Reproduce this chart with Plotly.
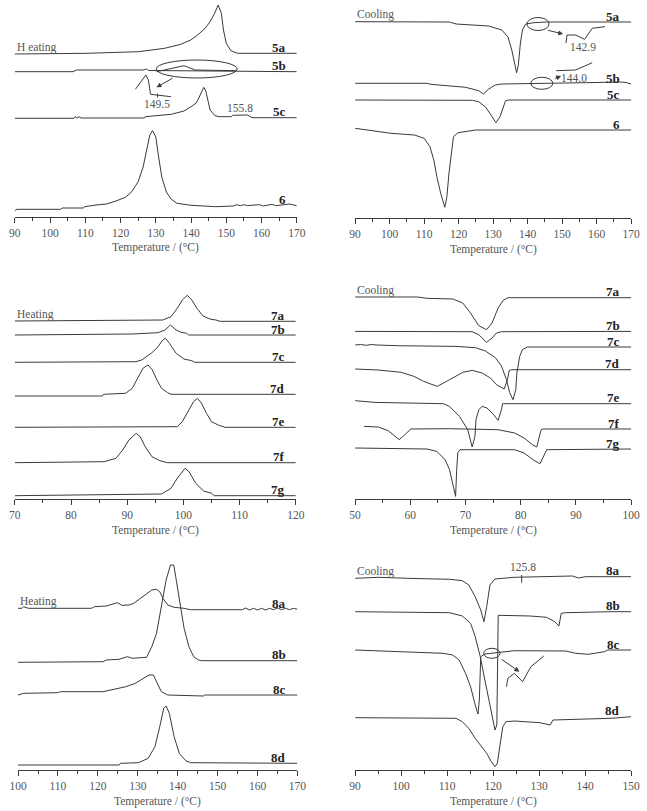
import plotly.graph_objects as go

# ---------------- data (temperature in °C, signal in arbitrary units, curves offset) -------------
# Panel A: heating 5a, 5b, 5c, 6
A_5a_T = [90, 110.4, 125.1, 132.5, 137.1, 139.9, 141.5, 143.5, 144.5, 145.4, 146.7, 147.7, 148.6, 149.2, 150, 151.3, 153.2, 170]
A_5a_h = [163, 163.7, 165.3, 168.7, 172.7, 177, 181, 187, 191, 195.3, 203.7, 212, 203.7, 187, 173.7, 166.3, 163.7, 163.7]
A_5b_T = [90, 106.5, 107.5, 126.5, 127.3, 128, 135, 160, 170]
A_5b_h = [145.3, 145.3, 147, 147, 148, 146.5, 146.3, 146, 145.3]
A_5c_T = [90, 106.8, 107.2, 107.6, 108.2, 108.8, 126.8, 127, 134.4, 138, 140, 141.5, 142.2, 143, 143.6, 144.2, 144.6, 145.4, 146.8, 148,
          151.4, 151.8, 156, 157.3, 170]
A_5c_h = [98.7, 98.7, 100.5, 98.7, 100.3, 99, 99, 100.3, 102.7, 106, 110.3, 114, 119, 126, 129.7, 126, 120, 107, 101.3, 100.3,
          100.3, 101.7, 102, 99.3, 99.3]
A_6_T = [90, 90.6, 103, 103.4, 109.5, 109.8, 113, 116, 118.7, 121.4, 123.2, 125, 126.4, 127.5, 128.3, 129.1, 130, 130.8, 131.7,
         133, 134.4, 136, 140, 147, 152, 153, 154, 155, 156, 157, 159.5, 160.5, 162, 163, 164, 166, 168, 170]
A_6_h = [6.3, 7.7, 7.7, 9, 9, 10.3, 12, 13, 16, 19.7, 25.3, 35.3, 50, 67, 82, 86.3, 80, 60, 40,
         25, 17.7, 13.7, 11.7, 10.3, 11, 12.3, 11.3, 12.3, 11.3, 11.7, 12.3, 11, 12, 12.7, 11.3, 12, 13, 11.3]
A_inset_T = [124.2, 127.2, 127.9, 128.5, 134.3]
A_inset_h = [127.7, 142, 137, 122.7, 120.3]
A_oval_T = [130.2, 138, 141.2, 152.7]
A_oval_h = [145.3, 151.3, 147, 146.3]

# Panel B: cooling 5a, 5b, 5c, 6
B_5a_T = [90, 117.3, 119.3, 128.7, 132.5, 134.3, 135.4, 136.2, 136.8, 137.3, 137.9, 138.5, 139.4, 141.8, 145.5, 170]
B_5a_h = [196.3, 196, 194, 192, 188, 181, 168, 155, 145.3, 153, 175, 188, 194, 195.3, 196, 196]
B_5b_T = [90, 110.8, 112, 122, 125.8, 127.2, 128.6, 130.6, 132.5, 153, 156.8, 166.8, 168.5, 170]
B_5b_h = [134.7, 134.7, 133.7, 130.7, 127.3, 124, 128.7, 133, 134, 134.7, 135.3, 136, 135.5, 134]
B_5c_T = [90, 124, 125.8, 127.8, 129.7, 130.8, 132, 132.9, 133.6, 134.5, 170]
B_5c_h = [118, 117.7, 116.3, 111, 101.3, 95.3, 101.3, 111.3, 117.3, 118, 118]
B_6_T = [90, 94.8, 100.4, 107.2, 110, 111.7, 112.8, 113.7, 114.8, 116, 116.6, 117.2, 117.9, 118.5, 119.8, 123.1, 125, 170]
B_6_h = [89.7, 87.3, 84.7, 83, 79.7, 71.3, 58, 41.3, 24.7, 10.7, 21.3, 44.7, 68, 81.3, 85.3, 87.3, 88, 88]
B_inset1_T = [151.1, 151.4, 153.9, 156.5, 158.7, 162.4]
B_inset1_h = [175, 183, 183, 178.7, 189.7, 191.3]
B_inset2_T = [148.3, 153.9, 158.7]
B_inset2_h = [147.3, 148, 155.3]

# Panel C: heating 7a-7g
C_7a_T = [70, 96.3, 97.8, 98.9, 99.8, 100.7, 101.5, 102.4, 103.5, 104.7, 105.8, 106.5, 120]
C_7a_h = [178, 179, 182.3, 190.7, 199, 203.7, 199, 190.7, 183, 180, 179, 177.7, 177.7]
C_7b_T = [70, 90.9, 95.5, 96.7, 97.7, 98.7, 99.6, 100.6, 100.9, 120]
C_7b_h = [164, 165, 166.3, 169, 174, 169, 166.7, 165.7, 164, 164]
C_7c_T = [70, 91.5, 92.6, 94.4, 95.5, 96.3, 96.8, 97.5, 98.7, 100.1, 101.5, 102, 120]
C_7c_h = [136.7, 137.3, 139, 146.3, 152.3, 159, 160.7, 155.7, 145.7, 140, 138.3, 136.7, 136.7]
C_7d_T = [70, 85.6, 85.8, 89.7, 90.9, 92, 92.8, 93.7, 94.4, 95.3, 96.1, 97.2, 97.8, 120]
C_7d_h = [103, 103, 104.7, 105.7, 110.7, 122.3, 130.7, 134, 129.7, 119, 110.7, 106.3, 104.7, 104.7]
C_7e_T = [70, 98.9, 99.8, 101, 101.8, 102.5, 103.2, 104.1, 105, 106.2, 107.4, 120]
C_7e_h = [71.7, 72.3, 77.3, 89, 97.3, 100.7, 96, 85.7, 77.3, 74, 71.7, 71.7]
C_7f_T = [70, 85.9, 88, 89.2, 90.3, 91.6, 92.3, 93.2, 94.4, 95.8, 97.2, 120]
C_7f_h = [36.3, 37.3, 40.7, 49, 59, 65.7, 62.3, 52.3, 42.3, 38.3, 36.3, 36.3]
C_7g_T = [70, 96.1, 97.8, 98.9, 100.3, 101, 102.2, 103.6, 105, 105.5, 120]
C_7g_h = [3.3, 5, 10.7, 20.7, 30.7, 27.3, 15.7, 8, 5.7, 3.3, 3.3]

# Panel D: cooling 7a-7g
D_7a_T = [50, 61.3, 63, 67.7, 69.5, 70.9, 72.4, 73.8, 74.8, 75.9, 76.8, 77.7, 100]
D_7a_h = [202, 202, 200.7, 200, 196, 186, 173.3, 169.3, 176, 191, 198.6, 201.3, 201.3]
D_7b_T = [50, 71.2, 72.4, 73.8, 74.8, 75.6, 76.5, 100]
D_7b_h = [167.6, 167.3, 164.3, 156.6, 161, 166, 167.3, 167.6]
D_7c_T = [50, 51, 52, 53, 54, 57.7, 68.3, 71.8, 73.6, 75.4, 76.5, 77.4, 78, 78.6, 79.1, 79.3, 79.8, 80.3, 81.2, 100]
D_7c_h = [154, 154.5, 153.7, 154.5, 154, 153.3, 152.6, 151.3, 148, 141.3, 133, 119.6, 106.3, 99.3, 109.3, 126, 142.6, 149.3, 152, 152]
D_7d_T = [50, 54.2, 58.3, 60.7, 62.4, 64.9, 67.1, 69.5, 71.2, 73, 74.5, 75.6, 77, 77.6, 77.9, 78.3, 100]
D_7d_h = [130, 129, 126.7, 122.6, 117.6, 112.6, 119.3, 126.7, 128.6, 126, 121, 114.3, 110, 119.3, 128.6, 129.3, 129.3]
D_7e_T = [50, 53.6, 66, 67.1, 68.9, 70.4, 71.2, 71.7, 71.9, 72.4, 73, 73.9, 75.1, 75.9, 76.5, 76.7, 100]
D_7e_h = [98.3, 96.6, 95.3, 92.6, 82.6, 69.3, 52, 62.6, 79.3, 89.3, 92.6, 91, 84.3, 78.6, 89.3, 95.3, 95.3]
D_7f_T = [51.6, 54.2, 56, 57.2, 58, 59, 60.1, 67.1, 75.9, 78.9, 80.6, 82.1, 82.9, 83.3, 83.7, 84, 100]
D_7f_h = [72.6, 72, 68.3, 63.3, 59.3, 64.3, 70, 70.3, 69.3, 66, 61, 54.3, 52, 61, 69.3, 70, 70]
D_7g_T = [50, 63, 64.8, 66.3, 67.1, 67.7, 68.2, 68.4, 68.6, 69, 78.9, 80.6, 82.4, 83.5, 84.2, 84.7, 100]
D_7g_h = [51, 50, 47.6, 39.3, 29.3, 16, 2.6, 29.3, 46.3, 49.3, 49.3, 46, 38.6, 35.3, 42.6, 49.3, 50]

# Panel E: heating 8a-8d
E_8a_T = [100, 101, 101.4, 102.6, 118.4, 119.2, 122.1, 124.1, 124.9, 126, 127.8, 129, 130.2, 131.8, 133.5, 134.7, 135.5, 136.3,
          137.5, 139.1, 141.6, 143.2, 156.2, 157, 158, 159, 160, 161, 162, 163, 164, 165, 166, 167, 168, 169, 170]
E_8a_h = [161.7, 161.7, 163.3, 161.7, 161.7, 163.3, 164, 166, 167.3, 164.7, 165, 166.7, 170, 175, 180, 180.7, 178.3, 171.7,
          165, 162.7, 161.7, 160.3, 160.3, 162, 160, 161.7, 160, 161.7, 160, 161.7, 160.3, 162, 160.3, 161.7, 160.3, 161.7, 160.7]
E_8b_T = [100, 121.3, 122.1, 125.3, 127.4, 128.2, 128.6, 132.2, 133.5, 134.7, 135.9, 137.1, 138.2, 139, 139.5, 140.4, 141.6,
          142.8, 144, 145.2, 146, 170]
E_8b_h = [107.7, 108.3, 110, 110.7, 113.3, 112.7, 111.7, 112.7, 123.3, 136.7, 163.3, 190, 205, 205, 193.3, 170, 141.7,
          123.3, 113.3, 110, 109.3, 109.3]
E_8c_T = [100, 101.4, 109.9, 110.7, 121.3, 124.5, 127, 129.4, 131.4, 132.8, 133.9, 134.7, 135.9, 137.5, 146.4, 146.8, 170]
E_8c_h = [75, 76.7, 77.3, 78.3, 78.3, 81, 83.3, 86.7, 91.7, 95, 95, 88.3, 78.3, 75, 74, 75, 75]
E_8d_T = [100, 125.3, 125.7, 130.2, 132.6, 134.3, 135.5, 136.5, 137.1, 137.9, 139.1, 140.4, 142, 143.2, 170]
E_8d_h = [5, 5, 6.7, 7.3, 11.7, 23.3, 43.3, 61.7, 64, 56.7, 33.3, 16.7, 9.3, 7.3, 6.7]

# Panel F: cooling 8a-8d
F_8a_T = [90, 95.1, 101.4, 110.5, 113.3, 114.7, 116.1, 117.3, 118, 118.6, 119.3, 120.4, 124.6, 137.2, 138.6, 140, 150]
F_8a_h = [191.7, 192.7, 191.7, 190.7, 189.3, 185, 173.3, 160, 148.3, 163.3, 185, 191, 192.7, 194, 192, 193.3, 193.3]
F_8b_T = [90, 110.5, 113.3, 115.1, 116.1, 117.2, 118.2, 119.3, 120.4, 120.8, 121.1, 128.1, 131.6, 133.4, 134.3, 134.8, 135.8, 145.6, 150]
F_8b_h = [158.3, 157.3, 154, 146.7, 133.3, 113.3, 90, 66.7, 40, 45, 154.7, 154, 152.7, 148.3, 144, 156.7, 157.3, 158.3, 158.3]
F_8c_T = [90, 100, 109.1, 111.2, 112.6, 114, 115.1, 116, 116.7, 117, 117.3, 118.2, 121.1, 124.6, 135.8, 137.9, 140.7, 144.2, 144.9, 150]
F_8c_h = [120, 118.3, 116.7, 115, 110, 96.7, 83.3, 66.7, 56, 70, 113.3, 116, 117.3, 119.3, 119, 116.7, 115.7, 118.3, 120, 120]
F_8d_T = [90, 111.9, 113.3, 114.7, 116.1, 117.5, 118.6, 119.6, 120.4, 120.9, 121.6, 122.1, 122.8, 124.6, 130.2, 132.4, 133, 145.6, 150]
F_8d_h = [52.3, 51.7, 48.3, 41.7, 31.7, 23.3, 16.7, 8.3, 3.3, 6.7, 30, 43.3, 48.3, 49, 47.3, 45, 50, 51.7, 53.3]
F_inset_T = [122.9, 123.2, 124.6, 126.4, 128.2, 131]
F_inset_h = [83.3, 91.7, 96.7, 88.3, 103.3, 114]

# ---------------- layout helpers ----------------
W, H = 647, 811
FONT = "Times New Roman, Liberation Serif, serif"
LINE = "#3a3a3a"
TXT = "#555555"

panels = [
    dict(xr=[90, 170], xpx=[6, 296], ax=217, top=0, mode="H eating",
         curves=[("5a", A_5a_T, A_5a_h), ("5b", A_5b_T, A_5b_h), ("5c", A_5c_T, A_5c_h), ("6", A_6_T, A_6_h)]),
    dict(xr=[90, 170], xpx=[356, 640], ax=218, top=0, mode="Cooling",
         curves=[("5a", B_5a_T, B_5a_h), ("5b", B_5b_T, B_5b_h), ("5c", B_5c_T, B_5c_h), ("6", B_6_T, B_6_h)]),
    dict(xr=[70, 120], xpx=[6, 295], ax=499, top=279, mode="Heating",
         curves=[("7a", C_7a_T, C_7a_h), ("7b", C_7b_T, C_7b_h), ("7c", C_7c_T, C_7c_h), ("7d", C_7d_T, C_7d_h),
                 ("7e", C_7e_T, C_7e_h), ("7f", C_7f_T, C_7f_h), ("7g", C_7g_T, C_7g_h)]),
    dict(xr=[50, 100], xpx=[356, 640], ax=499, top=279, mode="Cooling",
         curves=[("7a", D_7a_T, D_7a_h), ("7b", D_7b_T, D_7b_h), ("7c", D_7c_T, D_7c_h), ("7d", D_7d_T, D_7d_h),
                 ("7e", D_7e_T, D_7e_h), ("7f", D_7f_T, D_7f_h), ("7g", D_7g_T, D_7g_h)]),
    dict(xr=[100, 170], xpx=[9.3, 296.7], ax=770, top=550, mode="Heating",
         curves=[("8a", E_8a_T, E_8a_h), ("8b", E_8b_T, E_8b_h), ("8c", E_8c_T, E_8c_h), ("8d", E_8d_T, E_8d_h)]),
    dict(xr=[90, 150], xpx=[356, 640], ax=770, top=550, mode="Cooling",
         curves=[("8a", F_8a_T, F_8a_h), ("8b", F_8b_T, F_8b_h), ("8c", F_8c_T, F_8c_h), ("8d", F_8d_T, F_8d_h)]),
]

fig = go.Figure()
annotations = []
shapes = []

for i, p in enumerate(panels, start=1):
    xa = "x" if i == 1 else f"x{i}"
    ya = "y" if i == 1 else f"y{i}"
    xk = "xaxis" if i == 1 else f"xaxis{i}"
    yk = "yaxis" if i == 1 else f"yaxis{i}"
    for name, T, h in p["curves"]:
        fig.add_trace(go.Scatter(x=T, y=h, mode="lines", xaxis=xa, yaxis=ya, showlegend=False,
                                 line=dict(color=LINE, width=1), hoverinfo="skip"))
        annotations.append(dict(x=p["xr"][1], y=h[-1] + 6, xref=xa, yref=ya, text=f"<b>{name}</b>",
                                showarrow=False, xanchor="right", yanchor="middle", xshift=-9,
                                font=dict(family=FONT, size=13, color="#222222")))
    first = p["curves"][0]
    annotations.append(dict(x=p["xr"][0], y=first[2][0] + 7, xref=xa, yref=ya, text=p["mode"],
                            showarrow=False, xanchor="left", yanchor="middle", xshift=0,
                            font=dict(family=FONT, size=11.5, color=TXT)))
    annotations.append(dict(x=0.5, y=0, xref=f"{xa} domain", yref=f"{ya} domain", text="Temperature / (°C)",
                            showarrow=False, xanchor="center", yanchor="middle", yshift=-31,
                            font=dict(family=FONT, size=11.5, color=TXT)))
    height = p["ax"] - p["top"]
    fig.layout[xk] = dict(domain=[p["xpx"][0] / W, p["xpx"][1] / W], range=p["xr"], anchor=ya,
                          showline=True, linecolor=LINE, linewidth=1, ticks="outside", ticklen=5,
                          tickcolor=LINE, dtick=10, showgrid=False, zeroline=False,
                          tickfont=dict(family=FONT, size=11.5, color=TXT),
                          minor=dict(dtick=5, ticks="outside", ticklen=3, tickcolor=LINE, showgrid=False))
    fig.layout[yk] = dict(domain=[(H - p["ax"]) / H, (H - p["top"]) / H], range=[0, height], anchor=xa,
                          visible=False, showgrid=False, zeroline=False)

# ---------- magnified-detail call-outs ----------
def add_line(T, h, xa, ya):
    fig.add_trace(go.Scatter(x=T, y=h, mode="lines", xaxis=xa, yaxis=ya, showlegend=False,
                             line=dict(color=LINE, width=1), hoverinfo="skip"))

def add_oval(x0, x1, y0, y1, xa, ya):
    shapes.append(dict(type="circle", xref=xa, yref=ya, x0=x0, x1=x1, y0=y0, y1=y1,
                       line=dict(color=LINE, width=1)))

def add_arrow(x, y, axx, ayy, xa, ya):
    annotations.append(dict(x=x, y=y, ax=axx, ay=ayy, xref=xa, yref=ya, axref=xa, ayref=ya, text="",
                            showarrow=True, arrowhead=2, arrowsize=1, arrowwidth=1, arrowcolor=LINE))

def add_text(x, y, t, xa, ya):
    annotations.append(dict(x=x, y=y, xref=xa, yref=ya, text=t, showarrow=False,
                            font=dict(family=FONT, size=11.5, color=TXT)))

# panel A
add_oval(130.1, 153.1, 139, 157, "x", "y")
add_line(A_oval_T, A_oval_h, "x", "y")
add_arrow(130.2, 129.7, 135.2, 139.7, "x", "y")
add_line(A_inset_T, A_inset_h, "x", "y")
shapes.append(dict(type="line", xref="x", yref="y", x0=130.5, x1=130.5, y0=119.5, y1=123.5, line=dict(color=LINE, width=1)))
add_text(130.2, 113, "149.5", "x", "y")
add_text(153.8, 109, "155.8", "x", "y")
# panel B
add_oval(139.8, 146.2, 187.5, 200.5, "x2", "y2")
add_arrow(150.3, 184, 145.5, 188, "x2", "y2")
add_line(B_inset1_T, B_inset1_h, "x2", "y2")
add_text(155.9, 171, "142.9", "x2", "y2")
add_oval(140.9, 147.3, 128.7, 140.7, "x2", "y2")
add_arrow(149.7, 142, 147.5, 139, "x2", "y2")
add_line(B_inset2_T, B_inset2_h, "x2", "y2")
add_text(153.3, 140, "144.0", "x2", "y2")
# panel F
add_text(126.5, 203, "125.8", "x6", "y6")
shapes.append(dict(type="line", xref="x6", yref="y6", x0=126.2, x1=126.2, y0=187.3, y1=195, line=dict(color=LINE, width=1)))
add_oval(117.95, 121.5, 111.7, 121.7, "x6", "y6")
add_arrow(125.7, 98.3, 121.5, 111.7, "x6", "y6")
add_line(F_inset_T, F_inset_h, "x6", "y6")

fig.update_layout(width=W, height=H, margin=dict(l=0, r=0, t=0, b=0), paper_bgcolor="white",
                  plot_bgcolor="white", annotations=annotations, shapes=shapes, showlegend=False)
fig.write_html("out.html")
